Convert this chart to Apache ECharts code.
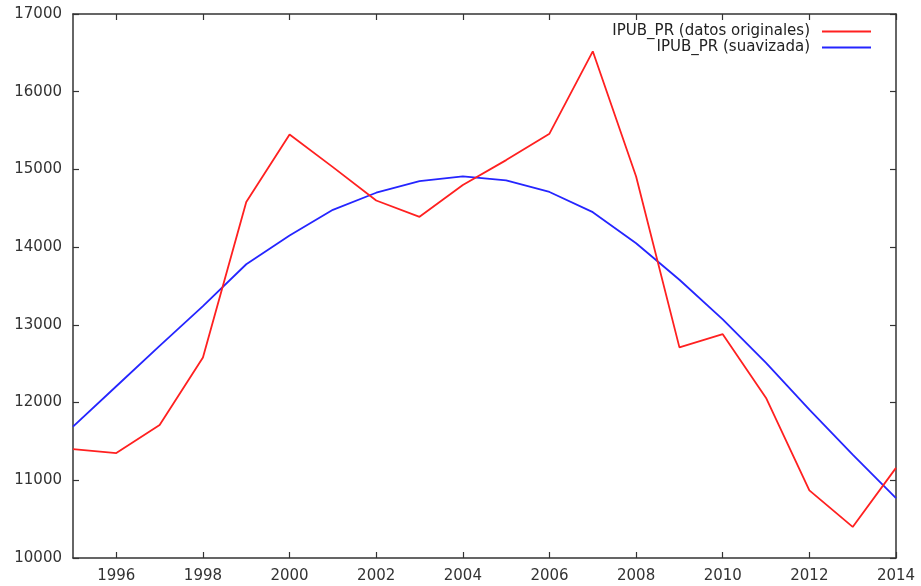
<!DOCTYPE html>
<html>
<head>
<meta charset="utf-8">
<script src="https://cdn.jsdelivr.net/npm/echarts@6/dist/echarts.min.js"></script>
<style>html,body{margin:0;padding:0;background:#fff}#c{width:921px;height:586px}</style>
</head>
<body>
<div id="c"></div>
<script>
var years = ['1995','1996','1997','1998','1999','2000','2001','2002','2003','2004','2005','2006','2007','2008','2009','2010','2011','2012','2013','2014'];
var originales = [11400,11350,11710,12580,14580,15450,15030,14600,14390,14800,15120,15460,16520,14910,12710,12880,12060,10870,10400,11160];
var suavizada = [11690,12210,12730,13240,13780,14150,14480,14700,14850,14910,14860,14710,14450,14050,13580,13070,12510,11910,11330,10770];
var yTicks = {min: 10000, max: 17000, step: 1000};
var nameOrig = 'IPUB_PR (datos originales)';
var nameSuav = 'IPUB_PR (suavizada)';

var axisColor = '#333333';
var font = 'DejaVu Sans';
function evenYear(i) { return i % 2 === 1; }

var chart = echarts.init(document.getElementById('c'), null, {renderer: 'canvas'});
function xAx(pos, showLabel) {
  return {
    type: 'category', data: years, boundaryGap: false, position: pos,
    axisLine: {show: true, onZero: false, lineStyle: {color: axisColor, width: 1.5}},
    axisTick: {show: true, inside: true, length: 6, interval: function (i) { return evenYear(i); }, lineStyle: {color: axisColor, width: 1.2}},
    axisLabel: {show: showLabel, interval: function (i) { return evenYear(i); }, color: '#333', fontFamily: font, fontSize: 15, margin: 11},
    splitLine: {show: false}
  };
}
function yAx(pos, showLabel) {
  return {
    type: 'value', position: pos, min: yTicks.min, max: yTicks.max, interval: yTicks.step,
    axisLine: {show: true, onZero: false, lineStyle: {color: axisColor, width: 1.5}},
    axisTick: {show: true, inside: true, length: 6, lineStyle: {color: axisColor, width: 1.2}},
    axisLabel: {show: showLabel, color: '#333', fontFamily: font, fontSize: 15, margin: 11,
      formatter: function (v) { return String(v); }},
    splitLine: {show: false}
  };
}
chart.setOption({
  animation: false,
  backgroundColor: '#ffffff',
  grid: {left: 73, right: 25, top: 14, bottom: 28, containLabel: false},
  xAxis: [xAx('bottom', true), xAx('top', false)],
  yAxis: [yAx('left', true), yAx('right', false)],
  legend: [
    {data: [nameOrig], right: 45, top: 19, align: 'right', icon: 'rect', itemWidth: 49, itemHeight: 2,
     textStyle: {color: '#222', fontFamily: font, fontSize: 15, padding: [0, 7, 0, 0]}, selectedMode: false},
    {data: [nameSuav], right: 45, top: 35, align: 'right', icon: 'rect', itemWidth: 49, itemHeight: 2,
     textStyle: {color: '#222', fontFamily: font, fontSize: 15, padding: [0, 7, 0, 0]}, selectedMode: false}
  ],
  series: [
    {name: nameOrig, type: 'line', data: originales, showSymbol: false, symbol: 'none', color: '#ff2020',
     lineStyle: {width: 1.8, color: '#ff2020'}, z: 3},
    {name: nameSuav, type: 'line', data: suavizada, showSymbol: false, symbol: 'none', color: '#2525ff',
     lineStyle: {width: 1.8, color: '#2525ff'}, z: 2}
  ]
});
</script>
</body>
</html>
